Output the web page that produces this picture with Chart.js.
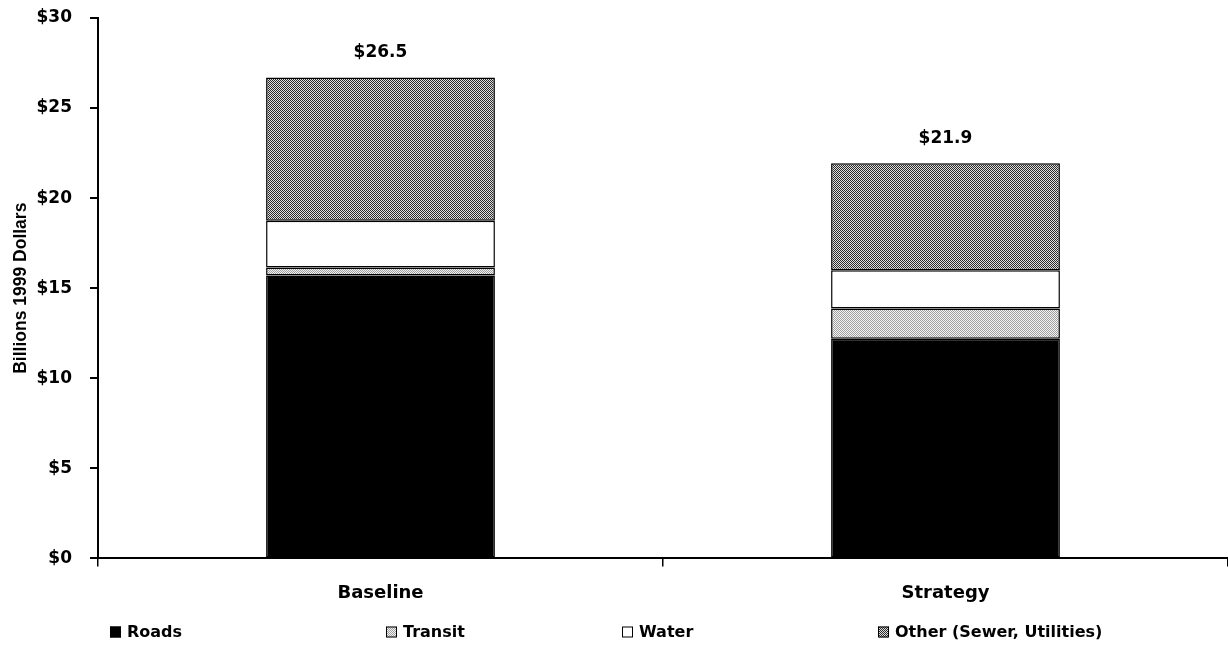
<!DOCTYPE html>
<html>
<head>
<meta charset="utf-8">
<script src="https://cdn.jsdelivr.net/npm/chart.js@4/dist/chart.umd.min.js"></script>
<style>
html,body{margin:0;padding:0;background:#fff;}
#wrap{width:1228px;height:648px;position:relative;}
</style>
</head>
<body>
<div id="wrap"><canvas id="c" width="1228" height="648"></canvas></div>
<script>
// ---- data ----
const categories = ['Baseline', 'Strategy'];
const roads   = [15.7, 12.2];
const transit = [0.45, 1.67];
const water   = [2.6, 2.13];
const other   = [7.95, 5.94];
const totalLabels = ['$26.5', '$21.9'];
const seriesNames = ['Roads', 'Transit', 'Water', 'Other (Sewer, Utilities)'];
const yTicks = [0, 5, 10, 15, 20, 25, 30];

// ---- patterns ----
function checker(a, b) {
  const c = document.createElement('canvas');
  c.width = 2; c.height = 2;
  const x = c.getContext('2d');
  x.fillStyle = b; x.fillRect(0, 0, 2, 2);
  x.fillStyle = a; x.fillRect(0, 0, 1, 1); x.fillRect(1, 1, 1, 1);
  return x.createPattern(c, 'repeat');
}
const ctx = document.getElementById('c').getContext('2d');
const transitFill = checker('#a0a0a0', '#f2f2f2');
const otherFill = checker('#2a2a2a', '#e0e0e0');

const fills = ['#000000', transitFill, '#ffffff', otherFill];
const seriesData = [roads, transit, water, other];

Chart.defaults.color = '#000';

const totalsPlugin = {
  id: 'totals',
  afterDatasetsDraw(chart) {
    const c = chart.ctx;
    const meta = chart.getDatasetMeta(chart.data.datasets.length - 1);
    c.save();
    c.font = 'bold 17px "DejaVu Sans"';
    c.fillStyle = '#000';
    c.textAlign = 'center';
    c.textBaseline = 'middle';
    meta.data.forEach((el, i) => {
      c.fillText(totalLabels[i], el.x, el.y - 25);
    });
    c.restore();
  }
};

const legendStarts = [110, 386, 622, 878];
const legendPlugin = {
  id: 'bottomLegend',
  afterDraw(chart) {
    const c = chart.ctx;
    c.save();
    c.font = 'bold 16px "DejaVu Sans"';
    const box = 11, gapText = 6;
    const y = 632;
    chart.data.datasets.forEach((d, i) => {
      const x = legendStarts[i];
      c.fillStyle = d.backgroundColor;
      c.fillRect(x, y - box / 2, box, box);
      c.strokeStyle = '#000';
      c.lineWidth = 1;
      c.strokeRect(x + 0.5, y - box / 2 + 0.5, box - 1, box - 1);
      c.fillStyle = '#000';
      c.textAlign = 'left';
      c.textBaseline = 'middle';
      c.fillText(d.label, x + box + gapText, y + 1);
    });
    c.restore();
  }
};

new Chart(ctx, {
  type: 'bar',
  data: {
    labels: categories,
    datasets: seriesNames.map((name, k) => ({
      label: name,
      data: seriesData[k],
      backgroundColor: fills[k],
      borderColor: '#000',
      borderWidth: 1.5,
      borderSkipped: false,
      barPercentage: 0.405,
      categoryPercentage: 1.0
    }))
  },
  options: {
    responsive: false,
    animation: false,
    layout: { padding: { left: 0, right: 0, top: 18, bottom: 28 } },
    plugins: {
      legend: { display: false },
      tooltip: { enabled: false }
    },
    scales: {
      x: {
        stacked: true,
        grid: { display: true, offset: true, drawOnChartArea: false, drawTicks: true, tickLength: 8, color: '#000', lineWidth: 1.5 },
        border: { display: true, color: '#000', width: 2 },
        ticks: { font: { family: 'DejaVu Sans', weight: 'bold', size: 18 }, color: '#000', padding: 16 }
      },
      y: {
        stacked: true,
        min: 0, max: 30,
        afterBuildTicks(scale) { scale.ticks = yTicks.map(v => ({ value: v })); },
        afterFit(scale) { scale.width = 98; scale.paddingTop = 0; scale.paddingBottom = 0; },
        grid: { display: true, drawOnChartArea: false, drawTicks: true, tickLength: 8, color: '#000', lineWidth: 2 },
        border: { display: true, color: '#000', width: 2 },
        ticks: {
          font: { family: 'DejaVu Sans', weight: 'bold', size: 17 },
          color: '#000',
          padding: 18,
          callback: v => '$' + v
        },
        title: {
          display: true,
          text: 'Billions 1999 Dollars',
          font: { family: 'Liberation Sans', weight: 'bold', size: 17.5 },
          color: '#000',
          padding: { top: 11, bottom: 0 }
        }
      }
    }
  },
  plugins: [totalsPlugin, legendPlugin]
});
</script>
</body>
</html>
